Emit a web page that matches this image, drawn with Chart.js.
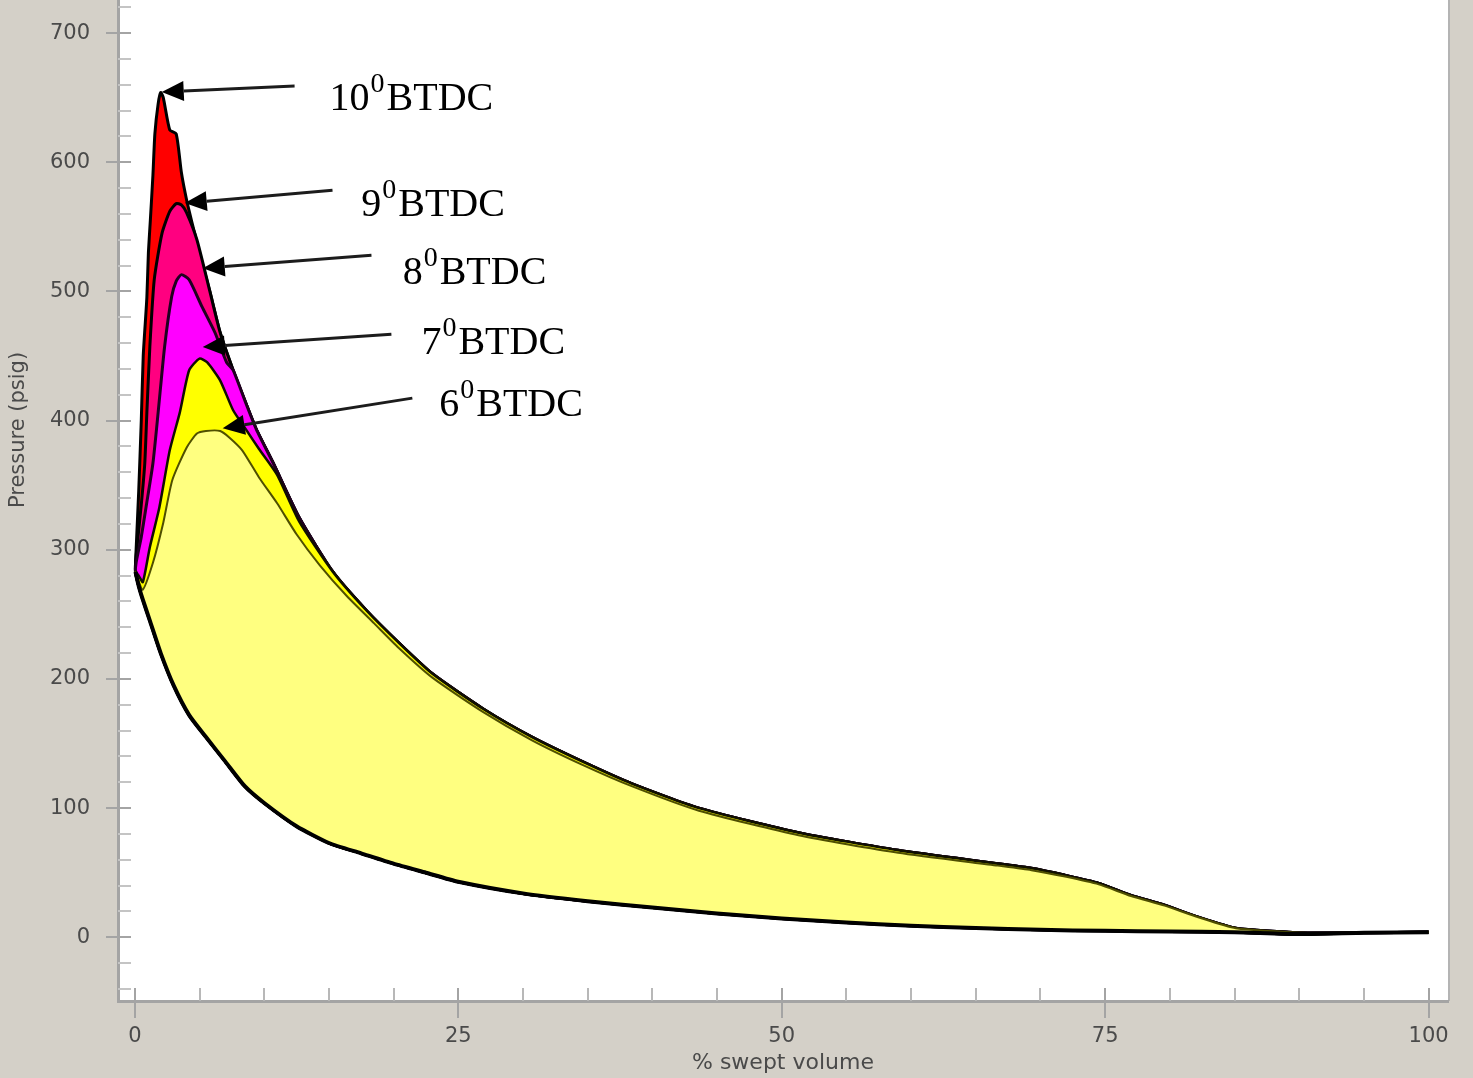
<!DOCTYPE html>
<html>
<head>
<meta charset="utf-8">
<script src="https://cdn.jsdelivr.net/npm/chart.js@4"></script>
<style>
  html, body { margin: 0; padding: 0; background: #d4d0c8; overflow: hidden; }
  #wrap { width: 1473px; height: 1078px; position: relative; }
</style>
</head>
<body>
<div id="wrap"><canvas id="pvChart"></canvas></div>
<script>
// compression stroke, shared by every loop (from BDC back to TDC)
const compressionVol = [100, 95, 90, 85, 80, 75, 70, 65, 60, 55, 50, 45, 40, 35, 30, 25, 22.5, 20, 17.5, 15, 12.5, 10, 8.5, 7, 5.5, 4.2, 3, 2, 1.2, 0.6, 0.3, 0.05];
const compressionP = [4, 3.5, 2.5, 4, 4.5, 5, 5.8, 7.2, 9, 11.5, 14.5, 18.5, 23, 28, 34, 43, 50, 57, 65, 73, 86, 104, 117, 136, 155, 172, 195, 220, 244, 262, 272, 283];

// late expansion, common to the 10, 9, 8 and 7 deg BTDC curves
const envelopeVol = [5.8, 6.6, 7.6, 8.6, 9.4, 10.7, 12.7, 15.3, 17.9, 20.4, 23, 26.9, 30.7, 34.6, 38.4, 43.6, 51.3, 59, 66.7, 69.3, 71.9, 74.5, 77, 79.6, 82.2, 85.1, 90, 95, 100];
const envelopeP = [500, 468, 439, 413, 393, 367, 325, 283, 253, 228, 204, 177, 155, 136, 119, 100, 81, 67.4, 57, 53.4, 48, 41.8, 32.5, 24.8, 15.5, 7, 3.5, 3.5, 4];

// combustion part of each curve
const head10Vol = [0.1, 0.3, 0.5, 0.65, 0.93, 1.05, 1.2, 1.4, 1.55, 1.8, 2.0, 2.2, 2.7, 3.2, 3.6, 4.0, 4.5, 5.0];
const head10P = [300, 345, 400, 450, 495, 530, 555, 590, 622, 645, 654, 650, 625, 622, 592, 571, 550, 530];
const head9Vol = [0.1, 0.5, 0.77, 0.93, 1.16, 1.5, 2.1, 2.7, 3.2, 3.6, 4.0, 4.8];
const head9P = [295, 335, 367, 406, 457, 509, 545, 562, 568, 567, 561, 540];
const head8Vol = [0.1, 0.5, 0.9, 1.4, 1.8, 2.3, 2.85, 3.2, 3.6, 4.2, 5.2, 6.2, 7.1];
const head8P = [290, 310, 335, 367, 406, 457, 496, 508, 513, 509, 488, 468, 445];
const head7Vol = [0.3, 0.62, 1.16, 1.9, 2.7, 3.47, 4.2, 5.0, 5.6, 6.6, 7.6, 8.6, 9.6, 11.0, 12.7];
const head7P = [280, 275, 302, 333, 377, 406, 439, 448, 445, 431, 408, 393, 378, 358, 322];

// 6 deg BTDC runs a little below the others all the way
const vol6 = [0.6, 1.4, 2.2, 2.9, 4.0, 4.8, 5.5, 6.6, 7.3, 8.3, 9.6, 11.0, 12.5, 14.3, 16.4, 18.5, 20.4, 23, 26.9, 30.7, 34.6, 38.4, 43.6, 51.3, 59, 66.7, 69.3, 71.9, 74.5, 77, 79.6, 82.2, 85.1, 90, 95, 100];
const p6 = [269, 290, 321, 354, 379, 390, 392, 392, 387, 377, 356, 336, 312, 288, 264, 243, 224, 201, 174.5, 152.5, 133.5, 117, 98, 79, 65.5, 55.5, 52, 47, 41, 32, 24.5, 15.5, 7, 3.5, 3.5, 4];

// arrow labels (text, where the text starts, arrow tail and tip)
const timingLabels = ['10', '9', '8', '7', '6'];
const labelVol = [15.05, 17.5, 20.7, 22.15, 23.53];
const labelP = [640.4, 558.3, 505.6, 451.4, 403.4];
const arrowTailVol = [12.35, 15.28, 18.29, 19.83, 21.45];
const arrowTailP = [659, 578.4, 528, 466.9, 417.4];
const arrowTipVol = [2.08, 3.86, 5.25, 5.25, 6.79];
const arrowTipP = [654.3, 568.4, 518, 456.9, 394.1];

const buildLoop = (headVol, headP, tailVol, tailP) => {
  const pts = compressionVol.map((v, i) => ({ x: v, y: compressionP[i] }));
  headVol.forEach((v, i) => pts.push({ x: v, y: headP[i] }));
  const last = headVol[headVol.length - 1];
  tailVol.forEach((v, i) => {
    if (v > last) pts.push({ x: v, y: tailP[i] });
  });
  return pts;
};

const loopSet = (data, fill, border, width) => ({
  data: data,
  showLine: true,
  pointRadius: 0,
  tension: 0.2,
  fill: 'shape',
  backgroundColor: fill,
  borderColor: border,
  borderWidth: width,
  borderJoinStyle: 'round'
});

const backdrop = {
  id: 'backdrop',
  beforeDraw(chart) {
    const { ctx, chartArea: a } = chart;
    ctx.save();
    ctx.fillStyle = '#d4d0c8';
    ctx.fillRect(0, 0, chart.width, chart.height);
    ctx.fillStyle = '#ffffff';
    ctx.fillRect(a.left, a.top, a.right - a.left, a.bottom - a.top);
    ctx.fillStyle = '#b4b4b4';
    ctx.fillRect(a.right, a.top, 2, a.bottom - a.top);
    // y axis title sits above the middle of the axis in the original
    ctx.translate(19, 430);
    ctx.rotate(-Math.PI / 2);
    ctx.fillStyle = '#4a4a4a';
    ctx.font = '21px "DejaVu Sans"';
    ctx.textAlign = 'center';
    ctx.textBaseline = 'middle';
    ctx.fillText('Pressure (psig)', 0, 0);
    ctx.restore();
  },
  beforeDatasetsDraw(chart) {
    const { ctx, chartArea: a, scales } = chart;
    ctx.save();
    ctx.lineWidth = 2;
    scales.y.ticks.forEach(t => {
      if (Math.abs(t.value % 20) > 1e-6) return;
      const major = Math.abs(t.value % 100) < 1e-6;
      const py = Math.round(scales.y.getPixelForValue(t.value));
      ctx.strokeStyle = major ? '#a4a4a4' : '#c4c4c4';
      ctx.beginPath();
      ctx.moveTo(major ? a.left - 12 : a.left, py);
      ctx.lineTo(a.left + 13, py);
      ctx.stroke();
    });
    scales.x.ticks.forEach(t => {
      if (Math.abs(t.value % 5) > 1e-6) return;
      const major = Math.abs(t.value % 25) < 1e-6;
      const px = Math.round(scales.x.getPixelForValue(t.value));
      ctx.strokeStyle = major ? '#a4a4a4' : '#b8b8b8';
      ctx.beginPath();
      ctx.moveTo(px, a.bottom - 13);
      ctx.lineTo(px, major ? a.bottom + 17 : a.bottom);
      ctx.stroke();
    });
    ctx.restore();
  },
  afterDatasetsDraw(chart) {
    const { ctx, scales } = chart;
    const sx = scales.x, sy = scales.y;
    ctx.save();
    timingLabels.forEach((lab, i) => {
      const tx = sx.getPixelForValue(arrowTipVol[i]);
      const ty = sy.getPixelForValue(arrowTipP[i]);
      const fx = sx.getPixelForValue(arrowTailVol[i]);
      const fy = sy.getPixelForValue(arrowTailP[i]);
      const ang = Math.atan2(ty - fy, tx - fx);
      const len = 22, half = 10;
      const bx = tx - Math.cos(ang) * len, by = ty - Math.sin(ang) * len;
      ctx.strokeStyle = '#1c1c1c';
      ctx.lineWidth = 3;
      ctx.beginPath();
      ctx.moveTo(fx, fy);
      ctx.lineTo(bx, by);
      ctx.stroke();
      ctx.fillStyle = '#000000';
      ctx.beginPath();
      ctx.moveTo(tx, ty);
      ctx.lineTo(bx + Math.sin(ang) * half, by - Math.cos(ang) * half);
      ctx.lineTo(bx - Math.sin(ang) * half, by + Math.cos(ang) * half);
      ctx.closePath();
      ctx.fill();

      // label: number, superscript 0, BTDC
      let x = sx.getPixelForValue(labelVol[i]);
      const y = sy.getPixelForValue(labelP[i]);
      ctx.fillStyle = '#000000';
      ctx.textBaseline = 'alphabetic';
      ctx.textAlign = 'left';
      ctx.font = '40px "Liberation Serif"';
      ctx.fillText(lab, x, y);
      x += ctx.measureText(lab).width + 1;
      ctx.font = '28px "Liberation Serif"';
      ctx.fillText('0', x, y - 18);
      x += ctx.measureText('0').width + 2;
      ctx.font = '40px "Liberation Serif"';
      ctx.fillText('BTDC', x, y);
    });
    ctx.restore();
  }
};

const tickFont = { family: 'DejaVu Sans', size: 21 };

new Chart(document.getElementById('pvChart'), {
  type: 'scatter',
  data: {
    datasets: [
      {
        data: compressionVol.map((v, i) => ({ x: v, y: compressionP[i] })),
        showLine: true,
        pointRadius: 0,
        tension: 0.2,
        fill: false,
        borderColor: '#000000',
        borderWidth: 4
      },
      loopSet(buildLoop(vol6, p6, [], []), '#ffff80', '#4f4f00', 2),
      loopSet(buildLoop(head7Vol, head7P, envelopeVol, envelopeP), '#ffff00', '#101000', 2.5),
      loopSet(buildLoop(head8Vol, head8P, envelopeVol, envelopeP), '#ff00ff', '#200020', 3),
      loopSet(buildLoop(head9Vol, head9P, envelopeVol, envelopeP), '#ff0080', '#000000', 3),
      loopSet(buildLoop(head10Vol, head10P, envelopeVol, envelopeP), '#ff0000', '#000000', 3)
    ]
  },
  options: {
    responsive: true,
    maintainAspectRatio: false,
    animation: false,
    layout: { padding: { top: 0, right: 25, bottom: 0, left: 0 } },
    plugins: { legend: { display: false }, tooltip: { enabled: false } },
    scales: {
      x: {
        type: 'linear',
        min: -1.3,
        max: 101.5,
        afterFit: scale => {
          scale.height = 77;
          scale.paddingLeft = 0;
          scale.paddingRight = 0;
        },
        grid: { display: false, drawTicks: false },
        border: { display: true, color: '#a4a4a4', width: 3 },
        ticks: {
          stepSize: 5,
          includeBounds: false,
          autoSkip: false,
          maxRotation: 0,
          padding: 23,
          color: '#4a4a4a',
          font: tickFont,
          callback: v => (Math.abs(v % 25) < 1e-6 ? String(v) : '')
        },
        title: {
          display: true,
          text: '% swept volume',
          color: '#4a4a4a',
          font: { family: 'DejaVu Sans', size: 22 },
          padding: { top: 0, bottom: 2 }
        }
      },
      y: {
        type: 'linear',
        min: -49.3,
        max: 725.6,
        afterFit: scale => {
          scale.width = 118;
          scale.paddingTop = 0;
          scale.paddingBottom = 0;
        },
        grid: { display: false, drawTicks: false },
        border: { display: true, color: '#a4a4a4', width: 3 },
        ticks: {
          stepSize: 20,
          includeBounds: false,
          autoSkip: false,
          padding: 28,
          color: '#4a4a4a',
          font: tickFont,
          callback: v => (v >= 0 && Math.abs(v % 100) < 1e-6 ? String(v) : '')
        }
      }
    }
  },
  plugins: [backdrop]
});
</script>
</body>
</html>
